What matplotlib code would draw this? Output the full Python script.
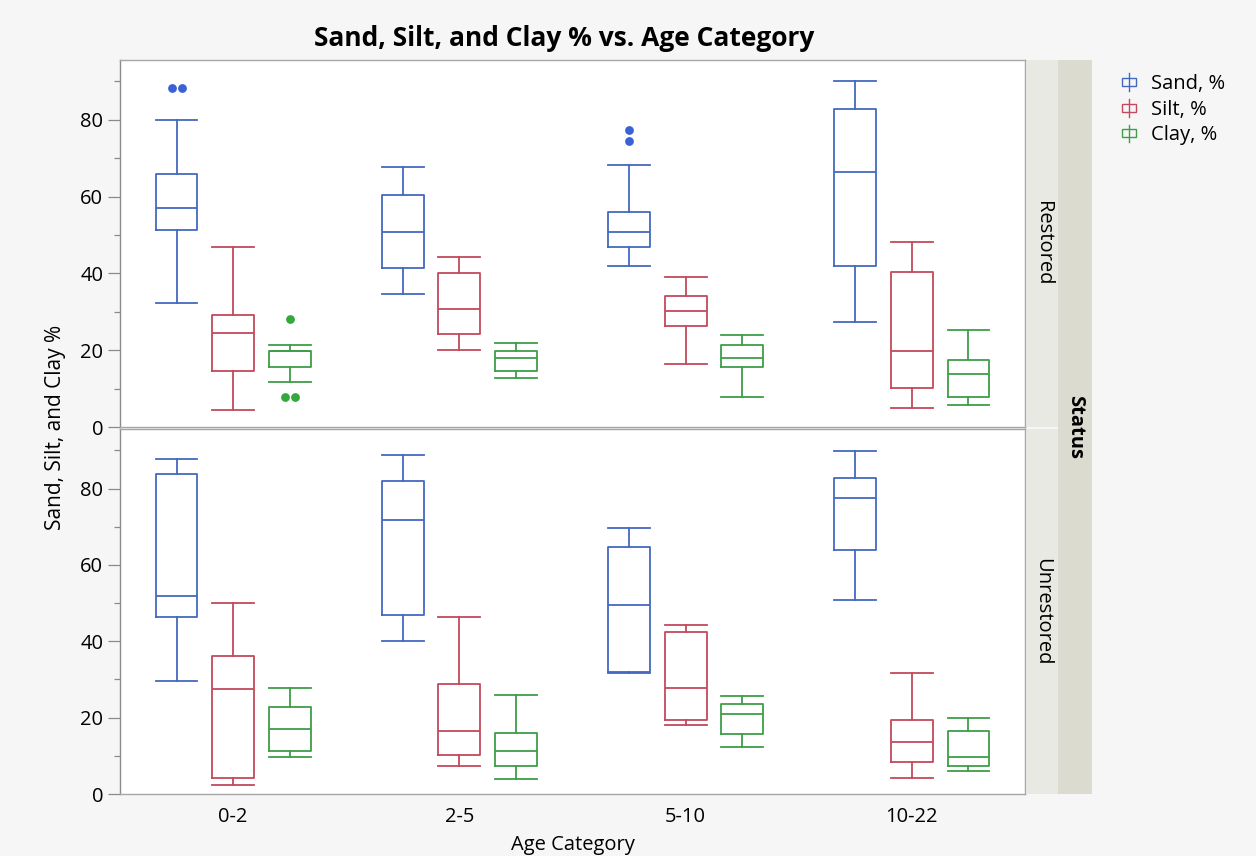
import numpy as np
import matplotlib
matplotlib.use("Agg")
import matplotlib.pyplot as plt
from matplotlib.patches import Patch, Rectangle
from matplotlib.lines import Line2D
from matplotlib.legend_handler import HandlerBase

plt.rcParams['font.family'] = ['Open Sans', 'DejaVu Sans']

categories = ['0-2', '2-5', '5-10', '10-22']
components = ['Sand, %', 'Silt, %', 'Clay, %']
statuses = ['Restored', 'Unrestored']

# five-number summaries per age category: [whisker low, q1, median, q3, whisker high]
restored_sand = [[32.3, 51.3, 57.1, 65.9, 80.0], [34.6, 41.4, 50.8, 60.5, 67.7],
                 [41.9, 46.9, 50.8, 56.0, 68.2], [27.3, 41.9, 66.3, 82.8, 90.2]]
restored_silt = [[4.4, 14.6, 24.4, 29.2, 46.8], [20.0, 24.3, 30.8, 40.0, 44.3],
                 [16.5, 26.3, 30.2, 34.1, 39.0], [4.9, 10.2, 19.9, 40.5, 48.2]]
restored_clay = [[11.7, 15.7, 19.9, 19.9, 21.4], [12.7, 14.6, 18.1, 19.9, 21.9],
                 [7.7, 15.6, 18.1, 21.4, 23.9], [5.7, 7.7, 13.7, 17.4, 25.3]]

unrestored_sand = [[29.7, 46.3, 51.8, 83.9, 87.8], [40.0, 46.9, 71.7, 81.9, 88.8],
                   [31.8, 32.0, 49.5, 64.8, 69.7], [50.8, 64.0, 77.6, 82.8, 89.8]]
unrestored_silt = [[2.3, 4.3, 27.5, 36.1, 50.1], [7.3, 10.2, 16.6, 28.8, 46.3],
                   [18.0, 19.5, 27.8, 42.4, 44.3], [4.3, 8.3, 13.6, 19.4, 31.6]]
unrestored_clay = [[9.7, 11.2, 17.0, 22.9, 27.8], [3.9, 7.3, 11.2, 16.1, 25.8],
                   [12.2, 15.6, 20.9, 23.7, 25.7], [5.9, 7.3, 9.7, 16.5, 20.0]]

# outlying points per age category
restored_sand_out = [[88.3, 88.3], [], [77.4, 74.4], []]
restored_silt_out = [[], [], [], []]
restored_clay_out = [[28.1, 7.9, 7.9], [], [], []]
unrestored_sand_out = [[], [], [], []]
unrestored_silt_out = [[], [], [], []]
unrestored_clay_out = [[], [], [], []]

line_colors = ['#4468c0', '#c24a5c', '#3f9e48']
dot_colors = ['#3a62d8', '#c03a50', '#34a83c']

panel_data = {
    'Restored': ([restored_sand, restored_silt, restored_clay],
                 [restored_sand_out, restored_silt_out, restored_clay_out]),
    'Unrestored': ([unrestored_sand, unrestored_silt, unrestored_clay],
                   [unrestored_sand_out, unrestored_silt_out, unrestored_clay_out]),
}

W, H = 1256, 856
fig = plt.figure(figsize=(W / 100, H / 100), dpi=100, facecolor='#f6f6f6')


def fx(px):
    return px / W


def fy(py):
    return 1 - py / H


left, right = 120, 1025
panels = [(60, 427), (429, 794)]
offsets = [-0.25, 0.0, 0.25]
box_w = 0.185
frame = '#a6a6a6'
fs = 14.5

axes = []
for (top, bot), status in zip(panels, statuses):
    ax = fig.add_axes([fx(left), fy(bot), fx(right - left), (bot - top) / H])
    ax.set_facecolor('white')
    boxes, outs = panel_data[status]
    x = np.arange(len(categories))
    for k, (summ, out) in enumerate(zip(boxes, outs)):
        stats = [dict(whislo=s[0], q1=s[1], med=s[2], q3=s[3], whishi=s[4], fliers=[])
                 for s in summ]
        c = line_colors[k]
        lp = dict(color=c, linewidth=1.3)
        ax.bxp(stats, positions=x + offsets[k], widths=box_w, capwidths=box_w,
               showfliers=False, boxprops=lp, whiskerprops=lp, capprops=lp,
               medianprops=lp, manage_ticks=False)
        # outliers, with repeated values spread sideways
        for i, vals in enumerate(out):
            for v in set(vals):
                n = vals.count(v)
                xs = x[i] + offsets[k] + (np.arange(n) - (n - 1) / 2) * 0.044
                ax.scatter(xs, [v] * n, s=40, color=dot_colors[k], zorder=3,
                           linewidths=0)
    ax.set_xlim(-0.5, 3.5)
    ax.set_ylim(0, 95.6)
    ax.set_yticks([0, 20, 40, 60, 80])
    ax.set_yticks([10, 30, 50, 70, 90], minor=True)
    ax.tick_params(axis='y', which='major', length=9, width=0.9, color='#8a8a8a',
                   labelsize=fs, pad=3)
    ax.tick_params(axis='y', which='minor', length=4, width=0.9, color='#8a8a8a')
    ax.set_xticks(x)
    ax.tick_params(axis='x', length=0, labelsize=fs, pad=9)
    for s in ax.spines.values():
        s.set_color(frame)
        s.set_linewidth(1.0)
    ax.spines['left'].set_color('#8a8a8a')
    axes.append(ax)

axes[0].set_xticklabels([])
axes[1].set_xticklabels(categories)
axes[1].set_xlabel('Age Category', fontsize=fs, labelpad=6)

fig.text(fx(56), fy(427), 'Sand, Silt, and Clay %', rotation=90, fontsize=15,
         ha='center', va='center')
fig.text(fx(564), fy(38), 'Sand, Silt, and Clay % vs. Age Category', fontsize=19,
         fontweight='bold', ha='center', va='center')

# facet strips on the right
for (top, bot), status in zip(panels, statuses):
    sax = fig.add_axes([fx(1027), fy(bot), fx(31), (bot - top) / H])
    sax.set_facecolor('#e9e9e3')
    sax.set_xticks([])
    sax.set_yticks([])
    for s in sax.spines.values():
        s.set_visible(False)
    sax.text(0.5, 0.5, status, rotation=-90, ha='center', va='center',
             fontsize=fs, transform=sax.transAxes)

oax = fig.add_axes([fx(1058), fy(794), fx(34), (794 - 60) / H])
oax.set_facecolor('#dcdbcf')
oax.set_xticks([])
oax.set_yticks([])
for s in oax.spines.values():
    s.set_visible(False)
oax.text(0.5, 0.5, 'Status', rotation=-90, ha='center', va='center',
         fontsize=fs, fontweight='bold', transform=oax.transAxes)


class BoxIcon(HandlerBase):
    def create_artists(self, legend, orig_handle, xdescent, ydescent,
                       width, height, fontsize, trans):
        c = orig_handle.get_edgecolor()
        cx = -xdescent + width / 2
        y0 = -ydescent
        bw, bh = width * 0.95, height * 0.5
        rect = Rectangle((cx - bw / 2, y0 + (height - bh) / 2), bw, bh,
                         facecolor='none', edgecolor=c, linewidth=1.0, transform=trans)
        stem = Line2D([cx, cx], [y0 - height * 0.05, y0 + height * 1.05], color=c,
                      linewidth=1.0, transform=trans)
        return [stem, rect]


handles = [Patch(facecolor='none', edgecolor=c) for c in line_colors]
fig.legend(handles, components, handler_map={Patch: BoxIcon()},
           loc='upper left', bbox_to_anchor=(fx(1104), fy(56)), frameon=False,
           fontsize=fs, handlelength=0.7, handleheight=0.85, handletextpad=0.75,
           labelspacing=0.28)

fig.savefig('out.png', dpi=100, facecolor=fig.get_facecolor())
